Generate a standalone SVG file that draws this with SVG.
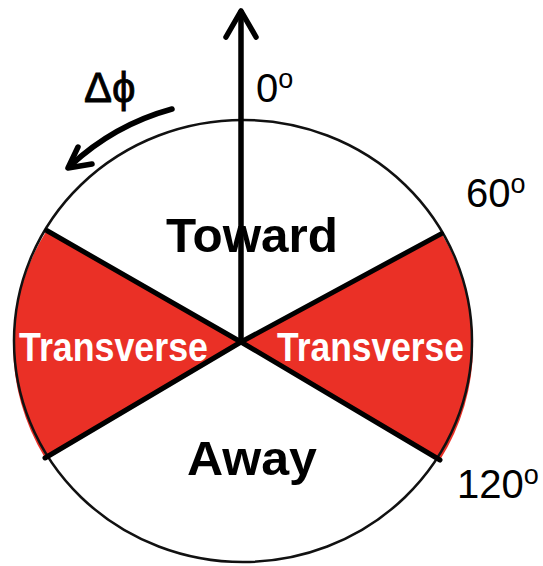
<svg xmlns="http://www.w3.org/2000/svg" width="543" height="566" viewBox="0 0 543 566">
  <style>
    .lbl { font-family: "Liberation Sans", Arial, sans-serif; fill: #000; }
    .bold { font-family: "Liberation Sans", Arial, sans-serif; font-weight: bold; }
    .red { fill: #ea3026; stroke: none; }
    .div { stroke: #000; stroke-width: 5; stroke-linecap: round; fill: none; }
    .arr { stroke: #000; stroke-width: 5.5; fill: none; stroke-linecap: round; stroke-linejoin: round; }
  </style>
  <rect width="543" height="566" fill="#fff"/>
  <g id="wheel">
    <ellipse cx="243" cy="341" rx="229" ry="221" fill="#fff" stroke="none"/>
    <g id="transverse-left">
      <path class="red" d="M241,342 L46.7,230.5 A229,221 0 0,0 45,458 Z"/>
      <text class="bold" x="19" y="361" font-size="40" fill="#fff" textLength="189" lengthAdjust="spacingAndGlyphs">Transverse</text>
    </g>
    <g id="transverse-right">
      <path class="red" d="M241,342 L441.5,233.6 A229,221 0 0,1 440,460 Z"/>
      <text class="bold" x="277" y="361" font-size="40" fill="#fff" textLength="187" lengthAdjust="spacingAndGlyphs">Transverse</text>
    </g>
    <g id="toward">
      <text class="bold" x="166" y="252" font-size="49" fill="#000" textLength="172" lengthAdjust="spacingAndGlyphs">Toward</text>
    </g>
    <g id="away">
      <text class="bold" x="187" y="475" font-size="49" fill="#000" textLength="130" lengthAdjust="spacingAndGlyphs">Away</text>
    </g>
    <ellipse cx="243" cy="341" rx="229" ry="221" fill="none" stroke="#111" stroke-width="2.5"/>
    <g id="dividers">
      <line class="div" x1="241" y1="342" x2="46.7" y2="230.5"/>
      <line class="div" x1="241" y1="342" x2="441.5" y2="233.6"/>
      <line class="div" x1="241" y1="342" x2="45" y2="458"/>
      <line class="div" x1="241" y1="342" x2="440" y2="460"/>
    </g>
  </g>
  <g id="connectors">
    <line class="arr" x1="241" y1="342" x2="241" y2="12"/>
    <polyline class="arr" points="226,37 241,11 256,37" stroke-width="7" stroke-linejoin="miter" stroke-linecap="round"/>
    <path class="arr" d="M172,109 A244,244 0 0,0 70,166"/>
    <polyline class="arr" points="78,147 68,168 92,164"/>
  </g>
  <g id="labels">
    <text class="lbl" x="84" y="102" font-size="42" stroke="#000" stroke-width="0.8">Δϕ</text>
    <text class="lbl" x="256" y="102" font-size="40">0<tspan font-size="27" dy="-14">o</tspan></text>
    <text class="lbl" x="466" y="207" font-size="40">60<tspan font-size="27" dy="-14">o</tspan></text>
    <text class="lbl" x="457" y="498" font-size="40">120<tspan font-size="27" dy="-14">o</tspan></text>
  </g>
</svg>
